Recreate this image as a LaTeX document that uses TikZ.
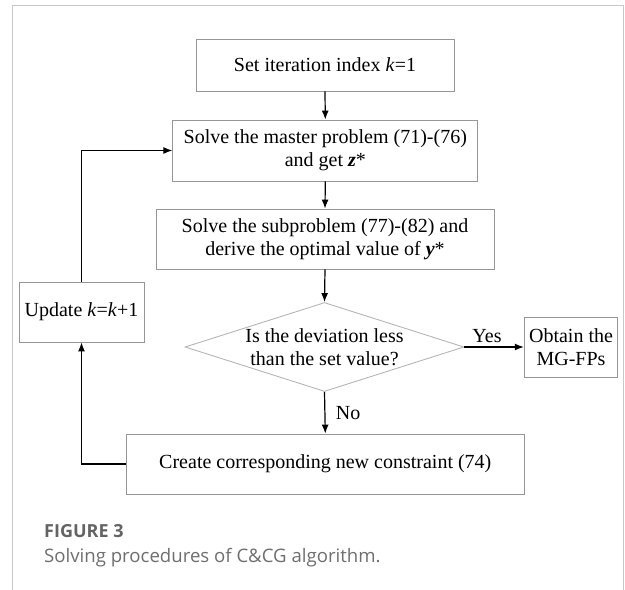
\documentclass[tikz,border=0pt]{standalone}
\usepackage{fontspec}
\setmainfont{Liberation Serif}
\newfontfamily\capfont{Open Sans}
\definecolor{BoxGray}{RGB}{150,150,150}
\definecolor{FrameGray}{RGB}{200,200,200}
\definecolor{CapGray}{RGB}{110,110,110}
\usetikzlibrary{positioning,shapes,arrows.meta,calc}
\tikzset{>={Latex[length=9pt,width=7pt]}}
\tikzset{stepbox/.style={draw=BoxGray,line width=0.9pt,align=center,inner sep=0pt,font=\fontsize{20}{23}\selectfont}}
\tikzset{decision/.style={diamond,draw=BoxGray!70,line width=0.9pt,inner sep=0pt,minimum width=279pt,minimum height=89pt}}
\tikzset{flow/.style={->,line width=1.2pt}}
\tikzset{caption/.style={anchor=base west,inner sep=0pt,text=CapGray,font=\capfont\fontsize{18.6}{22}\selectfont}}

\begin{document}
\begin{tikzpicture}[x=1pt,y=-1pt]
    \useasboundingbox (0,0) rectangle (625,590);
    \draw[FrameGray,line width=1pt] (12.5,590) |- (623.3,5.5) -- (623.3,590);

    \node[stepbox, minimum width=258pt, minimum height=52pt] (init) at (325,65) {Set iteration index \textit{k}=1};
    \node[stepbox, minimum width=305pt, minimum height=61pt] (master) at (325.3,150.5) {Solve the master problem (71)-(76)\\and get \textit{\textbf{z}}*};
    \node[stepbox, minimum width=338pt, minimum height=60pt] (sub) at (325,239) {Solve the subproblem (77)-(82) and\\derive the optimal value of \textit{\textbf{y}}*};
    \node[decision, label={[align=center,font=\fontsize{20}{23}\selectfont]center:Is the deviation less\\than the set value?}] (check) at (324.5,347) {};
    \node[stepbox, minimum width=93.5pt, minimum height=60pt] (obtain) at (571,347) {Obtain the\\MG-FPs};
    \node[stepbox, minimum width=398.5pt, minimum height=60pt] (create) at (325.3,464) {Create corresponding new constraint (74)};
    \node[stepbox, minimum width=125pt, minimum height=60pt] (update) at (81.5,312) {Update \textit{k}=\textit{k}+1};

    \foreach \i/\j in {init/master, master/sub, sub/check} {
        \draw[flow] (\i.south) -- (\j.north);
    }
    \draw[flow] (check.east) -- node[above, pos=0.38, font=\fontsize{20}{23}\selectfont] {Yes} (obtain.west);
    \draw[flow] (check.south) -- node[right, midway, xshift=7pt, font=\fontsize{20}{23}\selectfont] {No} (create.north);
    \draw[flow] (create.west) -| (update.south);
    \draw[flow] (update.north) |- (master.west);

    \node[caption, font=\capfont\bfseries\fontsize{18}{22}\selectfont, text=CapGray!90!black] (fig) at (44,537) {FIGURE 3};
    \node[caption] (cap) at (44,562) {Solving procedures of C\&CG algorithm.};
\end{tikzpicture}
\end{document}
